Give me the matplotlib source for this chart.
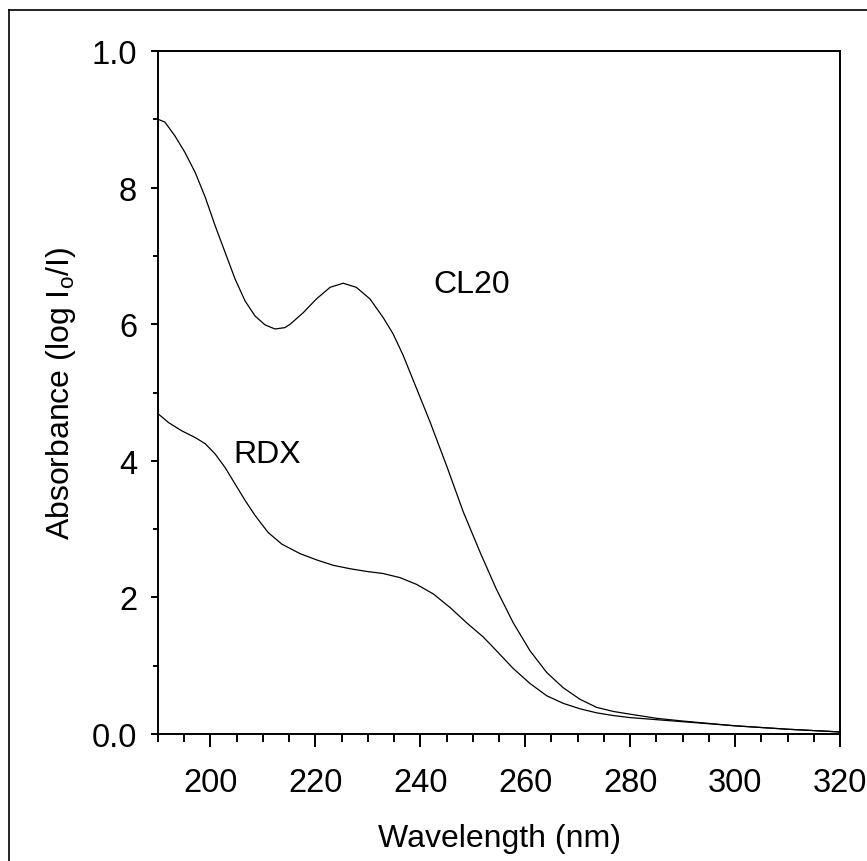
import matplotlib
matplotlib.use("Agg")
import matplotlib.pyplot as plt
from matplotlib.lines import Line2D
from matplotlib.ticker import MultipleLocator

plt.rcParams['font.family'] = ['Liberation Sans', 'DejaVu Sans']

cl20_wl = [190.0, 191.3, 193.2, 195.1, 197.1, 199.0, 200.9, 202.8, 204.7, 206.6, 208.5, 210.4,
           212.3, 214.2, 215.2, 217.7, 220.2, 222.8, 225.3, 227.8, 230.4, 232.9, 234.8, 236.7,
           238.7, 241.8, 245.0, 248.2, 251.4, 254.5, 257.7, 260.9, 264.1, 267.2, 270.4, 273.6,
           276.8, 280, 285, 290, 300, 310, 320]
cl20_abs = [9.00, 8.96, 8.76, 8.52, 8.22, 7.86, 7.44, 7.05, 6.66, 6.34, 6.12, 5.99,
            5.93, 5.95, 6.00, 6.17, 6.37, 6.54, 6.60, 6.54, 6.37, 6.10, 5.86, 5.55,
            5.17, 4.58, 3.93, 3.25, 2.66, 2.12, 1.63, 1.22, 0.90, 0.68, 0.51, 0.39,
            0.33, 0.29, 0.23, 0.19, 0.12, 0.07, 0.03]

rdx_wl = [190.0, 192.0, 194.5, 197.1, 199.0, 200.9, 202.8, 204.7, 206.6, 208.5, 211.0, 213.6,
          217.1, 220.2, 223.4, 226.6, 229.8, 232.9, 236.1, 239.3, 242.5, 245.7, 248.8, 252.0,
          254.5, 257.7, 260.9, 264.1, 267.2, 270.4, 273.6, 276.8, 280, 285, 290, 300, 310, 320]
rdx_abs = [4.69, 4.56, 4.44, 4.34, 4.25, 4.10, 3.90, 3.66, 3.42, 3.20, 2.95, 2.78,
           2.64, 2.55, 2.47, 2.42, 2.38, 2.35, 2.29, 2.19, 2.05, 1.85, 1.63, 1.42,
           1.22, 0.96, 0.74, 0.56, 0.45, 0.37, 0.31, 0.27, 0.24, 0.21, 0.18, 0.12, 0.07, 0.03]

x_ticks = [200, 220, 240, 260, 280, 300, 320]
y_ticks = [0, 2, 4, 6, 8, 10]
y_tick_labels = ['0.0', '2', '4', '6', '8', '1.0']

W, H = 867, 862
fig = plt.figure(figsize=(W / 100, H / 100), dpi=100)
ax = fig.add_axes([158 / W, 1 - 735 / H, (840 - 158) / W, (735 - 52) / H])

ax.plot(cl20_wl, cl20_abs, color='black', lw=0.9)
ax.plot(rdx_wl, rdx_abs, color='black', lw=0.9)

ax.set_xlim(190, 320)
ax.set_ylim(0, 10)
ax.set_xticks(x_ticks)
ax.xaxis.set_minor_locator(MultipleLocator(5))
ax.set_yticks(y_ticks)
ax.set_yticklabels(y_tick_labels)
ax.yaxis.set_minor_locator(MultipleLocator(1))

for s in ax.spines.values():
    s.set_linewidth(1.4)

ax.tick_params(axis='x', which='major', direction='out', length=9.5, width=1.4,
               labelsize=23.5, pad=14, top=False)
ax.tick_params(axis='x', which='minor', direction='out', length=6, width=1.4, top=False)
ax.tick_params(axis='y', which='major', direction='out', length=5, width=1.4,
               labelsize=23.5, pad=10, right=False)
ax.tick_params(axis='y', which='minor', direction='out', length=3.6, width=1.4, right=False)

ax.set_xlabel('Wavelength (nm)', fontsize=23, labelpad=18)
ax.set_ylabel('Absorbance (log I$_\\mathregular{o}$/I)', fontsize=23, labelpad=10)

ax.text(242.4, 6.59, 'CL20', fontsize=23, ha='left', va='center')
ax.text(204.3, 4.10, 'RDX', fontsize=23, ha='left', va='center')

# figure border (top and left visible)
fig.add_artist(Line2D([9 / W, 9 / W], [0, 1 - 11 / H], transform=fig.transFigure,
                      color='black', lw=1.2))
fig.add_artist(Line2D([9 / W, 1], [1 - 11 / H, 1 - 11 / H], transform=fig.transFigure,
                      color='black', lw=1.2))

fig.savefig('out.png', dpi=100)
